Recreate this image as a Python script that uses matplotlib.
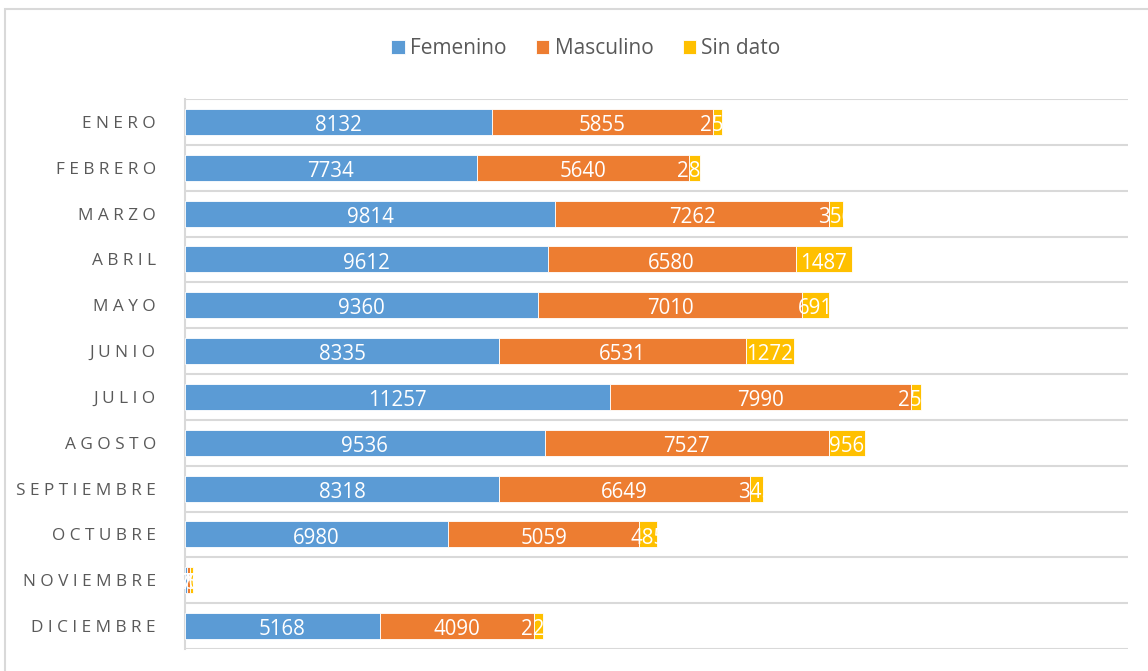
import matplotlib.pyplot as plt
from matplotlib.patches import Rectangle
import numpy as np

meses = ['ENERO', 'FEBRERO', 'MARZO', 'ABRIL', 'MAYO', 'JUNIO', 'JULIO',
         'AGOSTO', 'SEPTIEMBRE', 'OCTUBRE', 'NOVIEMBRE', 'DICIEMBRE']
femenino = [8132, 7734, 9814, 9612, 9360, 8335, 11257, 9536, 8318, 6980, 65, 5168]
masculino = [5855, 5640, 7262, 6580, 7010, 6531, 7990, 7527, 6649, 5059, 70, 4090]
sin_dato = [257, 286, 356, 1487, 691, 1272, 254, 956, 345, 485, 70, 223]

series = [('Femenino', femenino, '#5B9BD5'),
          ('Masculino', masculino, '#ED7D31'),
          ('Sin dato', sin_dato, '#FFC000')]

plt.rcParams['font.family'] = ['Open Sans', 'DejaVu Sans']
gris = '#595959'

fig = plt.figure(figsize=(11.48, 6.71), dpi=100)
ax = fig.add_axes([185/1148, 1-649/671, (1128-185)/1148, (649-99)/671])

# marco del grafico
fig.patches.append(Rectangle((5/1148, -0.05), 1.2, 1-9/671+0.05, transform=fig.transFigure,
                             fill=False, edgecolor='#D9D9D9', linewidth=1.5))

y = np.arange(len(meses))
left = np.zeros(len(meses))
for nombre, vals, color in series:
    bars = ax.barh(y, vals, left=left, height=0.57, color=color, label=nombre,
                   edgecolor='white', linewidth=0.6, zorder=3)
    for i, v in enumerate(vals):
        xc = left[i] + v / 2
        t = ax.text(xc, y[i] + 0.2, str(v), ha='center', va='baseline', color='white',
                    fontsize=14.8, zorder=4)
        clip = Rectangle((0, y[i] - 0.5), left[i] + v, 1.0, transform=ax.transData)
        t.set_clip_path(clip)
    left = left + np.array(vals)

ax.set_xlim(0, 25000)
ax.set_ylim(len(meses) - 0.5, -0.5)

for b in np.arange(-0.5, len(meses), 1.0):
    ax.axhline(b, color='#D9D9D9', linewidth=1.5, zorder=1)

ax.set_yticks(y)
ax.set_yticklabels([' '.join(m) for m in meses], fontsize=12.4, color=gris)
ax.tick_params(axis='y', length=0, pad=21)
ax.set_xticks([])
for s in ['top', 'right', 'bottom']:
    ax.spines[s].set_visible(False)
ax.spines['left'].set_color('#D9D9D9')
ax.spines['left'].set_linewidth(1.5)

leg = fig.legend(loc='center', bbox_to_anchor=(586/1148, 1-49/671), ncol=3,
                 frameon=False, fontsize=15, handlelength=0.65, handleheight=0.65,
                 handletextpad=0.25, columnspacing=1.4)
for txt in leg.get_texts():
    txt.set_color(gris)

fig.savefig('out.png', dpi=100)
